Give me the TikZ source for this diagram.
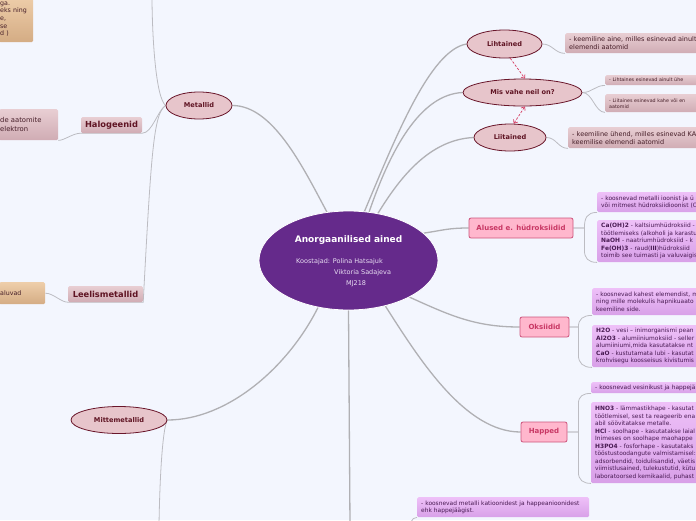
\documentclass[tikz,border=0pt]{standalone}
\usepackage{fontspec}
\setmainfont{DejaVu Sans}
\usetikzlibrary{shapes.geometric, arrows.meta, backgrounds}
\definecolor{cPaper}{RGB}{243, 246, 254}
\definecolor{cHub}{RGB}{101, 42, 139}
\definecolor{tHubSub}{RGB}{232, 222, 242}
\definecolor{cTopic}{RGB}{231, 197, 203}
\definecolor{bTopic}{RGB}{105, 22, 42}
\definecolor{tTopic}{RGB}{95, 20, 35}
\definecolor{cNoteTop}{RGB}{232, 206, 211}
\definecolor{cNoteBot}{RGB}{208, 172, 180}
\definecolor{tNote}{RGB}{70, 30, 40}
\definecolor{cClass}{RGB}{255, 183, 205}
\definecolor{bClass}{RGB}{205, 85, 125}
\definecolor{tClass}{RGB}{200, 55, 100}
\definecolor{cLilaTop}{RGB}{238, 192, 248}
\definecolor{cLilaBot}{RGB}{216, 160, 232}
\definecolor{tLila}{RGB}{72, 26, 82}
\definecolor{cTanTop}{RGB}{238, 206, 170}
\definecolor{cTanBot}{RGB}{212, 172, 132}
\definecolor{cLine}{RGB}{188, 188, 194}
\definecolor{cTrunk}{RGB}{176, 176, 180}
\definecolor{cRel}{RGB}{214, 60, 98}
\newcommand{\mapfont}[2]{\fontsize{#1}{#2}\selectfont}

\begin{document}
\begin{tikzpicture}[
    x=1pt, y=-1pt,
    hub/.style={ellipse, draw=white, line width=0.8pt, fill=cHub,
        minimum width=179pt, minimum height=99pt, inner sep=0pt},
    hubtitle/.style={text=white, font=\bfseries\mapfont{9}{11}, inner sep=0pt},
    hubsub/.style={text=tHubSub, font=\mapfont{6.5}{11}, align=left, inner sep=0pt},
    topic/.style={ellipse, draw=bTopic, line width=0.8pt, fill=cTopic,
        text=tTopic, font=\bfseries\mapfont{6.6}{8}, inner sep=0pt},
    klass/.style={draw=bClass, line width=0.8pt, fill=cClass, text=tClass,
        rounded corners=2pt, font=\bfseries\mapfont{7}{8}, inner sep=0pt,
        minimum height=20pt},
    group/.style={top color=cNoteTop, bottom color=cNoteBot, text=tTopic,
        rounded corners=1.5pt, font=\bfseries\mapfont{8.3}{10}, inner sep=0pt,
        minimum height=16pt},
    note/.style={top color=cNoteTop, bottom color=cNoteBot, text=tNote,
        rounded corners=1.5pt, align=left, anchor=north west,
        inner xsep=4pt, inner ysep=0pt, font=\mapfont{6.5}{7.8}},
    lila/.style={top color=cLilaTop, bottom color=cLilaBot, text=tLila,
        rounded corners=1.5pt, align=left, anchor=north west,
        inner xsep=4pt, inner ysep=0pt, font=\mapfont{5.9}{7.5}},
    tan/.style={top color=cTanTop, bottom color=cTanBot, text=tNote,
        rounded corners=1.5pt, align=left, anchor=north west,
        inner xsep=1pt, inner ysep=0pt, font=\mapfont{6.3}{7.6}},
    trunk/.style={draw=cTrunk, line width=1.3pt},
    twig/.style={draw=cLine, line width=0.8pt},
    relation/.style={draw=cRel, line width=0.7pt, dash pattern=on 2.5pt off 1.5pt}
]
\useasboundingbox (0,0) rectangle (696,520);
\begin{scope}[on background layer]
    \fill[cPaper] (0,0) rectangle (696,520);
\end{scope}
\clip (0,0) rectangle (696,520);

% centre
\node[hub] (hub) at (348.5,260.5) {};
\node[hubtitle] (title) at (348.5,240) {Anorgaanilised ained};
\node[hubsub, anchor=north west] (authors) at (296,258.5) {Koostajad: Polina Hatsajuk\\
    \hspace*{38pt}Viktoria Sadajeva\\
    \hspace*{50pt}MJ218};

% main topics
\node[topic, minimum width=66pt, minimum height=27pt] (metallid) at (199,105.5) {Metallid};
\node[topic, minimum width=96pt, minimum height=27pt] (mittemetallid) at (119,420) {Mittemetallid};
\node[topic, minimum width=75pt, minimum height=28pt] (lihtained) at (504.5,44) {Lihtained};
\node[topic, minimum width=119pt, minimum height=27pt] (misvahe) at (522.5,92.5) {Mis vahe neil on?};
\node[topic, minimum width=72pt, minimum height=27pt] (liitained) at (510,137.5) {Liitained};

\node[klass, minimum width=104pt] (alused) at (521,228) {Alused e. hüdroksiidid};
\node[klass, minimum width=49pt] (oksiidid) at (544.5,327) {Oksiidid};
\node[klass, minimum width=46pt] (happed) at (544,432) {Happed};

% metal groups
\node[group, minimum width=61pt] (halogeenid) at (111.5,125) {Halogeenid};
\node[group, minimum width=75pt] (leelis) at (105.5,294) {Leelismetallid};

% notes, left
\node[tan, text width=32pt, minimum height=46pt] (tancard) at (-1,-4) {ga.\\eks ning\\e,\\se\\d )};
\node[note, inner xsep=1pt, text width=57pt, minimum height=31pt, font=\mapfont{6.8}{9}] (halocard) at (-1,109) {de aatomite\\elektron};
\node[tan, text width=44pt, minimum height=22pt] (leeliscard) at (-1,282) {aluvad\\[6pt]};

% notes, right
\node[note, text width=190pt, minimum height=20pt] (lihtcard) at (565,33) {- keemiline aine, milles esinevad ainult\\elemendi aatomid};
\node[note, text width=190pt, minimum height=10pt, font=\mapfont{4.8}{6}] (misnote1) at (605,75) {- Lihtaines esinevad ainult ühe};
\node[note, text width=190pt, minimum height=18pt, font=\mapfont{4.8}{6}] (misnote2) at (605,94) {- Liitaines esinevad kahe või en\\aatomid};
\node[note, text width=190pt, minimum height=21pt] (liitcard) at (568,127) {- keemiline ühend, milles esinevad KA\\keemilise elemendi aatomid};

\node[lila, text width=190pt, minimum height=20pt] (alcard1) at (597,192) {- koosnevad metalli ioonist ja ü\\või mitmest hüdroksiidioonist (O};
\node[lila, text width=190pt, minimum height=42pt] (alcard2) at (597,220) {\textbf{Ca(OH)2} - kaltsiumhüdroksiid - k\\
    töötlemiseks (alkoholi ja karastu\\
    \textbf{NaOH} - naatriumhüdroksiid - k\\
    \textbf{Fe(OH)3} - raud(\textbf{III})hüdroksiid\\
    toimib see tuimasti ja valuvaigis};

\node[lila, text width=190pt, minimum height=27pt] (okscard1) at (592,288) {- koosnevad kahest elemendist, m\\ning mille molekulis hapnikuaato\\keemiline side.};
\node[lila, text width=190pt, minimum height=42pt] (okscard2) at (592,325) {\textbf{H2O} - vesi – inimorganismi pean\\
    \textbf{Al2O3} - alumiiniumoksiid - seller\\
    alumiiniumi,mida kasutatakse nt\\
    \textbf{CaO} - kustutamata lubi - kasutat\\
    krohvisegu koosseisus kivistumis};

\node[lila, text width=190pt, minimum height=11pt] (hapcard1) at (591,382) {- koosnevad vesinikust ja happejä};
\node[lila, text width=190pt, minimum height=81pt] (hapcard2) at (591,402) {\textbf{HNO3} - lämmastikhape - kasutat\\
    töötlemisel, sest ta reageerib ena\\
    abil söövitatakse metalle.\\
    \textbf{HCl} - soolhape - kasutatakse laial\\
    Inimeses on soolhape maohappe\\
    \textbf{H3PO4} - fosforhape - kasutataks\\
    tööstustoodangute valmistamisel:\\
    adsorbendid, toidulisandid, väetis\\
    viimistlusained, tulekustutid, kütu\\
    laboratoorsed kemikaalid, puhast};

\node[lila, text width=164pt, minimum height=20pt] (saltcard) at (417,497) {- koosnevad metalli katioonidest ja happeanioonidest\\ehk happejäägist.};

% free ends
\coordinate (metaltop) at (152,-5);
\coordinate (mitteend) at (159,525);
\coordinate (hubend) at (350,525);
\coordinate (saltend) at (410,530);

\begin{scope}[on background layer]
    % centre to topics
    \draw[trunk] (hub.114) .. controls +(-25,-47) and +(40,0) .. (metallid.east);
    \draw[trunk] (hub.72) .. controls +(30,-71) and +(-37,6) .. (lihtained.west);
    \draw[trunk] (hub.67) .. controls +(21,-61) and +(-43,2) .. (misvahe.west);
    \draw[trunk] (hub.58) .. controls +(22,-36) and +(-44,2) .. (liitained.west);
    \draw[trunk] (hub.20) .. controls +(20,-3) and +(-20,0) .. (alused.west);
    \draw[trunk] (hub.-31) .. controls +(40,18) and +(-45,0) .. (oksiidid.west);
    \draw[trunk] (hub.-51) .. controls +(35,55) and +(-55,0) .. (happed.west);
    \draw[trunk] (hub.-123) .. controls +(-30,60) and +(60,0) .. (mittemetallid.east);
    \draw[trunk] (hub.south) -- (hubend);

    % metals
    \draw[twig] (metallid.west) .. controls +(-10,-8) and +(0,40) .. (metaltop);
    \draw[twig] (metallid.west) .. controls +(-8,5) and +(10,0) .. (halogeenid.south east)
        -- (halogeenid.south west) .. controls +(-8,0) and +(6,0) .. (halocard.south east);
    \draw[twig] (metallid.west) .. controls +(-12,8) and +(8,-150) .. (leelis.south east)
        -- (leelis.south west) .. controls +(-7,0) and +(8,0) .. (leeliscard.east);
    \draw[twig] (mittemetallid.east) .. controls +(-4,6) and +(1,-60) .. (mitteend);

    % simple and compound substances
    \draw[twig] (lihtained.east) .. controls +(10,0) and +(-10,0) .. (lihtcard.south west);
    \draw[twig] (misvahe.east) .. controls +(10,0) and +(-10,0) .. (misnote1.south west);
    \draw[twig] (misvahe.east) .. controls +(10,0) and +(-10,0) .. (misnote2.south west);
    \draw[twig] (liitained.east) .. controls +(10,0) and +(-10,0) .. (liitcard.south west);

    % classes
    \draw[twig] (alused.east) -- ++(11,0) .. controls +(0,-10) and +(-10,0) .. (alcard1.south west);
    \draw[twig] (alused.east) -- ++(11,0) -- ++(0,22) .. controls +(0,8) and +(-9,0) .. (alcard2.south west);
    \draw[twig] (oksiidid.east) -- ++(9,0) .. controls +(0,-8) and +(-9,0) .. (okscard1.south west);
    \draw[twig] (oksiidid.east) -- ++(9,0) -- ++(0,28) .. controls +(0,8) and +(-9,0) .. (okscard2.south west);
    \draw[twig] (happed.east) -- ++(11,0) -- ++(0,-28) .. controls +(0,-8) and +(-8,0) .. (hapcard1.south west);
    \draw[twig] (happed.east) -- ++(11,0) -- ++(0,40) .. controls +(0,8) and +(-8,0) .. (hapcard2.south west);
    \draw[twig] (saltcard.south west) .. controls +(-6,0) and +(0,-6) .. (saltend);
\end{scope}

% relations
\draw[relation, -{Straight Barb[length=3pt,width=5pt]}] (lihtained.-68) -- (misvahe.80);
\draw[relation, {Straight Barb[length=3pt,width=5pt]}-{Straight Barb[length=3pt,width=5pt]}] (liitained.75) -- (misvahe.-80);

\end{tikzpicture}
\end{document}
